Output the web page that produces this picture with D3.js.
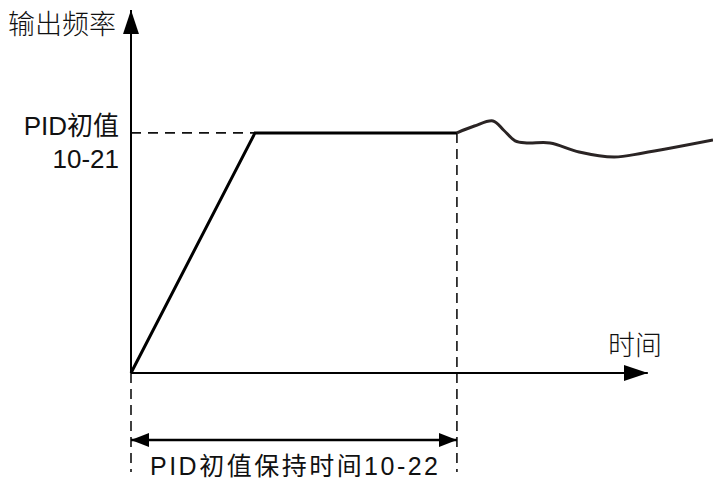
<!DOCTYPE html>
<head>
    <meta charset="utf-8">
    <style>
        body { margin: 0; background: #fff; }
        svg { position: absolute; top: 0; left: 0; }
        text {
            font-family: 'Liberation Sans', Arial, 'Noto Sans CJK SC', sans-serif;
            font-size: 26px;
            fill: #111;
        }
        .cjk { font-family: 'Noto Sans CJK SC', sans-serif; font-weight: 300; font-size: 27px; }
    </style>
    <script src="https://d3js.org/d3.v7.min.js"></script>
</head>
<body>
<script>
    ////////////// Data //////////////
    // time in % of the plot width, output frequency in % of the axis height
    const ramp_t = [0, 21.3, 56]
    const ramp_f = [0, 66.7, 66.7]
    const pid_t = [56, 59, 62.2, 64, 66, 68, 72, 77, 83, 88, 100]
    const pid_f = [66.7, 68.6, 70, 67.5, 64.5, 63.9, 63.9, 61.4, 60, 61.1, 64.7]
    const pid_level = 66.7
    const hold_end = 56
    const axis_end_t = 88.8
    const axis_end_f = 100.8

    const y_title = "输出频率"
    const x_title = "时间"
    const level_label = ["PID初值", "10-21"]
    const hold_label = "PID初值保持时间10-22"

    ////////////// SVG //////////////
    const W = 713, H = 481
    const svg = d3.select("body").append("svg")
        .attr("width", W).attr("height", H)

    const x = d3.scaleLinear().domain([0, 100]).range([131, 713])
    const y = d3.scaleLinear().domain([0, 100]).range([373, 13])

    const defs = svg.append("defs")
    defs.append("marker")
        .attr("id", "head")
        .attr("viewBox", "0 0 24 16")
        .attr("refX", 24).attr("refY", 8)
        .attr("markerWidth", 24).attr("markerHeight", 16)
        .attr("markerUnits", "userSpaceOnUse")
        .attr("orient", "auto-start-reverse")
        .append("path").attr("d", "M0,0 L24,8 L0,16 Z").attr("fill", "#000")
    defs.append("marker")
        .attr("id", "small")
        .attr("viewBox", "0 0 18 14")
        .attr("refX", 18).attr("refY", 7)
        .attr("markerWidth", 18).attr("markerHeight", 14)
        .attr("markerUnits", "userSpaceOnUse")
        .attr("orient", "auto-start-reverse")
        .append("path").attr("d", "M0,0 L18,7 L0,14 Z").attr("fill", "#000")

    ////////////// Dashed guides //////////////
    svg.append("line")
        .attr("x1", x(0)).attr("x2", x(ramp_t[1]))
        .attr("y1", y(pid_level)).attr("y2", y(pid_level))
        .attr("stroke", "#111").attr("stroke-width", 1.6)
        .attr("stroke-dasharray", "10,7")
    svg.append("line")
        .attr("x1", x(hold_end)).attr("x2", x(hold_end))
        .attr("y1", y(pid_level)).attr("y2", 472)
        .attr("stroke", "#111").attr("stroke-width", 1.6)
        .attr("stroke-dasharray", "10,6")
    svg.append("line")
        .attr("x1", x(0)).attr("x2", x(0))
        .attr("y1", y(0)).attr("y2", 472)
        .attr("stroke", "#111").attr("stroke-width", 1.6)
        .attr("stroke-dasharray", "10,6")

    ////////////// Axes //////////////
    svg.append("line")
        .attr("x1", x(0)).attr("x2", x(axis_end_t))
        .attr("y1", y(0)).attr("y2", y(0))
        .attr("stroke", "#000").attr("stroke-width", 2)
        .attr("marker-end", "url(#head)")
    svg.append("line")
        .attr("x1", x(0)).attr("x2", x(0))
        .attr("y1", y(0)).attr("y2", y(axis_end_f))
        .attr("stroke", "#000").attr("stroke-width", 2)
        .attr("marker-end", "url(#head)")

    ////////////// Frequency curve //////////////
    const line = d3.line().x(d => x(d[0])).y(d => y(d[1]))
    svg.append("path")
        .datum(ramp_t.map((t, i) => [t, ramp_f[i]]))
        .attr("d", line)
        .attr("fill", "none").attr("stroke", "#000").attr("stroke-width", 3)
    svg.append("path")
        .datum(pid_t.map((t, i) => [t, pid_f[i]]))
        .attr("d", line.curve(d3.curveCatmullRom.alpha(0.5)))
        .attr("fill", "none").attr("stroke", "#2a2424").attr("stroke-width", 3)

    ////////////// Hold time arrow //////////////
    svg.append("line")
        .attr("x1", x(0)).attr("x2", x(hold_end))
        .attr("y1", 440).attr("y2", 440)
        .attr("stroke", "#000").attr("stroke-width", 2.5)
        .attr("marker-start", "url(#small)")
        .attr("marker-end", "url(#small)")

    ////////////// Texts //////////////
    svg.append("text").attr("class", "cjk")
        .attr("x", 8).attr("y", 34).text(y_title)
    svg.append("text").attr("class", "cjk")
        .attr("x", 608).attr("y", 355).text(x_title)
    svg.append("text")
        .attr("x", 119).attr("y", 135)
        .attr("text-anchor", "end")
        .text(level_label[0])
    svg.append("text")
        .attr("x", 119).attr("y", 168)
        .attr("text-anchor", "end")
        .text(level_label[1])
    svg.append("text")
        .attr("x", 150).attr("y", 475)
        .style("font-size", "25px")
        .attr("textLength", 288)
        .text(hold_label)
</script>
</body>
